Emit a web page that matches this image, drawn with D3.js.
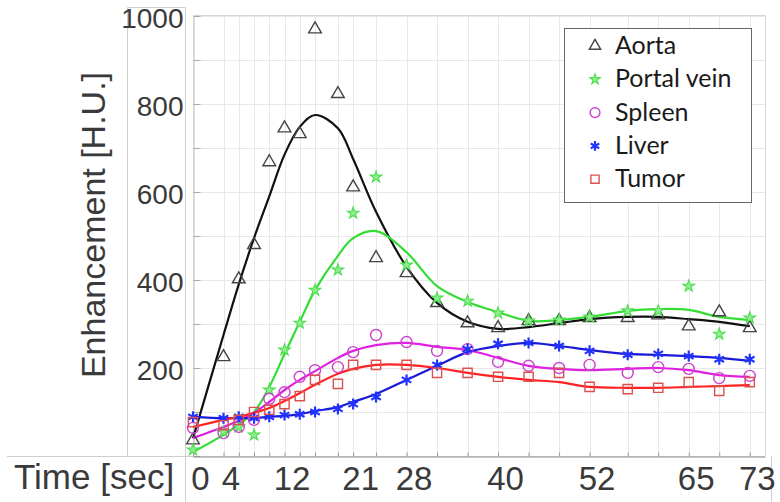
<!DOCTYPE html>
<html>
<head>
<meta charset="utf-8">
<script src="https://cdn.jsdelivr.net/npm/d3@7"></script>
<style>
  body { margin: 0; background: #fff; }
</style>
</head>
<body>
<script>
// sample times (sec) and axis labels
var times = [0, 4, 6, 8, 10, 12, 14, 16, 19, 21, 24, 28, 32, 36, 40, 44, 48, 52, 57, 61, 65, 69, 73];
var timeLabels = [0, 4, 12, 21, 28, 40, 52, 65, 73];
var yLabels = [200, 400, 600, 800, 1000];

// measured enhancement [H.U.]
var aortaPts  = [36, 225, 402, 480, 668, 745, 732, 970, 823, 611, 450, 416, 348, 302, 291, 307, 307, 314, 314, 320, 295, 327, 291];
var portalPts = [14, 55, 66, 48, 150, 241, 302, 377, 423, 552, 634, 434, 359, 352, 325, 307, 309, 316, 330, 330, 386, 277, 314];
var spleenPts = [64, 52, 66, 82, 130, 145, 180, 195, 202, 236, 275, 259, 239, 243, 214, 205, 200, 207, 189, 202, 198, 177, 182];
var liverPts  = [89, 86, 89, 86, 89, 93, 95, 100, 107, 118, 134, 173, 207, 243, 255, 257, 250, 239, 230, 232, 227, 220, 220];
var tumorPts  = [77, 70, 82, 100, 105, 118, 136, 173, 164, 207, 207, 207, 189, 189, 180, 180, 189, 157, 152, 155, 168, 148, 168];

// fitted curves
var aortaFit  = [40, 275, 390, 495, 590, 685, 748, 775, 745, 675, 555, 430, 348, 305, 289, 293, 302, 311, 316, 316, 311, 305, 295];
var portalFit = [9, 48, 72, 100, 157, 232, 305, 377, 455, 495, 511, 463, 386, 350, 327, 307, 309, 316, 330, 334, 332, 316, 309];
var spleenFit = [41, 66, 80, 98, 123, 150, 173, 193, 223, 239, 252, 257, 248, 241, 223, 205, 198, 195, 198, 200, 195, 184, 180];
var liverFit  = [89, 86, 86, 86, 89, 91, 95, 102, 111, 123, 141, 173, 205, 236, 250, 257, 250, 241, 232, 230, 227, 223, 216];
var tumorFit  = [66, 82, 89, 98, 109, 125, 143, 162, 187, 198, 207, 207, 200, 189, 180, 173, 168, 157, 155, 155, 157, 159, 161];

var names = ["Aorta", "Portal vein", "Spleen", "Liver", "Tumor"];

var series = [
  {name: names[0], pts: aortaPts,  fit: aortaFit,  line: "#111", mark: "#444", fill: "none", sym: d3.symbolTriangle, size: 70, sw: 1.4},
  {name: names[1], pts: portalPts, fit: portalFit, line: "#33dd33", mark: "#4ddd4d", fill: "#8fee8f", sym: d3.symbolStar, size: 42, sw: 1.1},
  {name: names[2], pts: spleenPts, fit: spleenFit, line: "#e020e0", mark: "#cc44cc", fill: "none", sym: d3.symbolCircle, size: 95, sw: 1.4},
  {name: names[3], pts: liverPts,  fit: liverFit,  line: "#1a1ad8", mark: "#2233ff", fill: "none", sym: d3.symbolAsterisk || d3.symbolCross, size: 85, sw: 2.2},
  {name: names[4], pts: tumorPts,  fit: tumorFit,  line: "#ff2222", mark: "#dd5050", fill: "none", sym: d3.symbolSquare, size: 85, sw: 1.4}
];

var svg = d3.select("body").append("svg")
  .attr("width", 780)
  .attr("height", 502)
  .style("font-family", "Liberation Sans, Arial, Helvetica, sans-serif");

var pLeft = 193, pRight = 765, pTop = 16, pBottom = 456;

var x = d3.scaleLinear().domain([0, 75]).range([pLeft, pRight]);
var y = d3.scaleLinear().domain([0, 1000]).range([pBottom, pTop]);

// table-like frame lines around the labels
var frame = svg.append("g").attr("stroke", "#cfcfcf").attr("stroke-width", 1).attr("fill", "none");
frame.append("path").attr("d", "M127.5,456 V7.5 H185.5 V502");
frame.append("path").attr("d", "M7,456.5 H193");
frame.append("path").attr("d", "M771.5,456 V502");

// grid
var grid = svg.append("g").attr("stroke", "#e8e8e8").attr("stroke-width", 1);
grid.selectAll(".gx")
  .data(times)
  .enter()
  .append("line")
  .attr("x1", function(d) { return Math.round(x(d)) + 0.5; })
  .attr("x2", function(d) { return Math.round(x(d)) + 0.5; })
  .attr("y1", pTop - 1)
  .attr("y2", pBottom);
grid.selectAll(".gy")
  .data(y.ticks(10))
  .enter()
  .append("line")
  .attr("x1", pLeft)
  .attr("x2", pRight)
  .attr("y1", function(d) { return Math.round(y(d)) + 0.5; })
  .attr("y2", function(d) { return Math.round(y(d)) + 0.5; });

// plot box top/right
svg.append("path")
  .attr("d", "M" + pLeft + "," + (pTop - 0.5) + " H" + (pRight + 0.5) + " V" + pBottom)
  .attr("fill", "none")
  .attr("stroke", "#d6d6d6");

// y axis
var yAxis = svg.append("g")
  .attr("transform", "translate(" + (pLeft + 0.5) + ",0)")
  .call(d3.axisLeft(y)
    .tickValues(y.ticks(10))
    .tickSizeInner(-7)
    .tickSizeOuter(0)
    .tickPadding(10)
    .tickFormat(function(d) { return yLabels.indexOf(d) >= 0 ? d : ""; }));
yAxis.select(".domain").attr("stroke", "#bdbdbd");
yAxis.selectAll(".tick line").attr("stroke", "#aaa");
yAxis.selectAll("text")
  .attr("dy", "0.4em")
  .style("font-size", "28px")
  .style("font-family", "Liberation Sans, Arial, sans-serif")
  .attr("fill", "#3a3a3a");

// x axis
var xAxis = svg.append("g")
  .attr("transform", "translate(0," + (pBottom + 0.5) + ")")
  .call(d3.axisBottom(x)
    .tickValues(times)
    .tickSizeInner(-4)
    .tickSizeOuter(0)
    .tickPadding(10)
    .tickFormat(function(d) { return timeLabels.indexOf(d) >= 0 ? d : ""; }));
xAxis.select(".domain").attr("stroke", "#8a8a8a");
xAxis.selectAll(".tick line").attr("stroke", "#999");
xAxis.selectAll("text")
  .attr("dx", 7)
  .style("font-size", "33px")
  .style("font-family", "Liberation Sans, Arial, sans-serif")
  .attr("fill", "#3a3a3a");

// axis titles
svg.append("text")
  .attr("transform", "translate(105,225) rotate(-90)")
  .attr("text-anchor", "middle")
  .style("font-size", "34px")
  .attr("fill", "#3a3a3a")
  .text("Enhancement [H.U.]");

svg.append("text")
  .attr("x", 14)
  .attr("y", 489)
  .style("font-size", "35px")
  .attr("fill", "#3a3a3a")
  .text("Time [sec]");

// fitted lines
var line = d3.line()
  .x(function(d, i) { return x(times[i]); })
  .y(function(d) { return y(d); })
  .curve(d3.curveCatmullRom.alpha(0.5));

var plot = svg.append("g");

series.forEach(function(s) {
  plot.append("path")
    .datum(s.fit)
    .attr("d", line)
    .attr("fill", "none")
    .attr("stroke", s.line)
    .attr("stroke-width", 2.2);
});

// measured points
series.forEach(function(s) {
  var sym = d3.symbol().type(s.sym).size(s.size);
  plot.append("g")
    .selectAll("path")
    .data(s.pts)
    .enter()
    .append("path")
    .attr("d", sym)
    .attr("transform", function(d, i) { return "translate(" + x(times[i]) + "," + y(d) + ")"; })
    .attr("fill", s.fill)
    .attr("stroke", s.mark)
    .attr("stroke-width", s.sw);
});

// legend
var lg = svg.append("g");
lg.append("rect")
  .attr("x", 564.5)
  .attr("y", 28.5)
  .attr("width", 187)
  .attr("height", 174)
  .attr("fill", "#fff")
  .attr("stroke", "#666")
  .attr("stroke-width", 1);

var rows = lg.selectAll(".row")
  .data(series)
  .enter()
  .append("g")
  .attr("transform", function(d, i) { return "translate(0," + (54 + i * 33.3) + ")"; });

rows.append("path")
  .attr("d", function(d) { return d3.symbol().type(d.sym).size(d.size * 0.8)(); })
  .attr("transform", "translate(595,-8)")
  .attr("fill", function(d) { return d.fill; })
  .attr("stroke", function(d) { return d.mark; })
  .attr("stroke-width", function(d) { return d.sw; });

rows.append("text")
  .attr("x", 615)
  .attr("y", 0)
  .style("font-family", "Lato, Carlito, sans-serif")
  .style("font-size", "25px")
  .attr("fill", "#1a1a1a")
  .text(function(d) { return d.name; });
</script>
</body>
</html>
